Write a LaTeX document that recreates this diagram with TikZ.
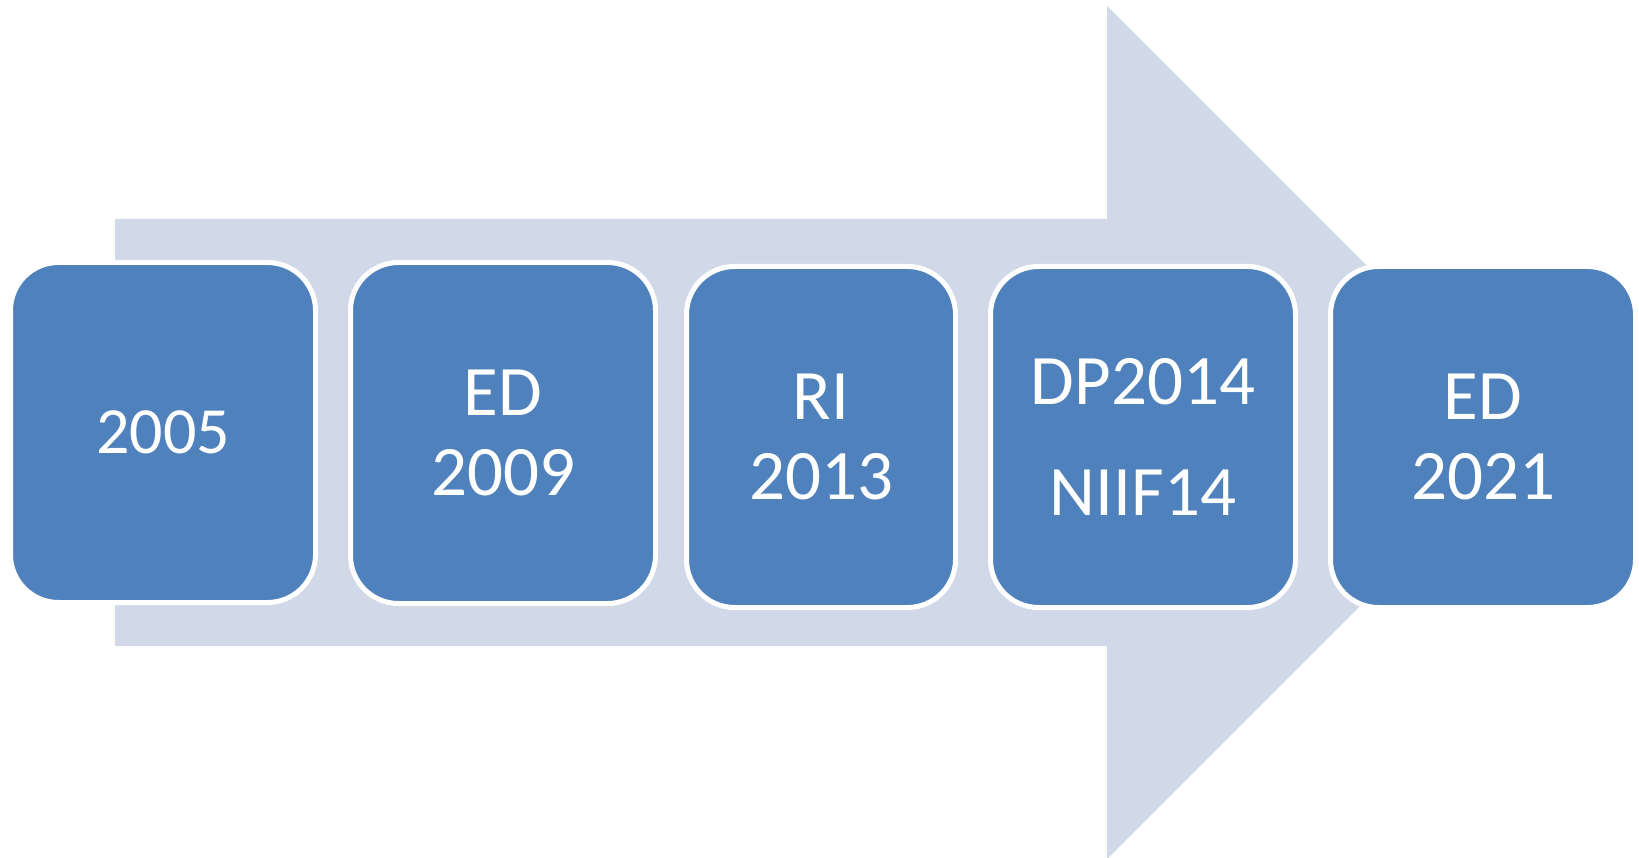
\documentclass[tikz,border=0pt]{standalone}
\usepackage{fontspec}
\setmainfont{Carlito}
\definecolor{shaftgray}{RGB}{209,216,232}
\definecolor{stepblue}{RGB}{79,129,189}

\begin{document}
\begin{tikzpicture}[x=1pt,y=-1pt,
    stage/.style={draw=white, line width=5pt, fill=stepblue, rounded corners=48pt,
      text=white, align=center, inner sep=0pt, minimum height=341pt,
      font={\fontsize{71}{80}\selectfont}}]
      \useasboundingbox (0,0) rectangle (1639,858);

      % big arrow behind the stages
      \fill[shaftgray] (115,219) -- (1107,219) -- (1107,6) -- (1533.5,432.5)
        -- (1107,859) -- (1107,646) -- (115,646) -- cycle;

      \node[stage, minimum width=305pt, minimum height=340pt,
        font={\fontsize{66}{74}\selectfont}] (Y05) at (163, 432.5) {2005};
      \node[stage, minimum width=305pt] (ED09) at (503, 433) {ED\\2009};
      \node[stage, minimum width=269pt] (RI13) at (821, 437) {RI\\2013};
      \node[stage, minimum width=305pt] (DP14) at (1143, 437) {DP2014\\[31pt]NIIF14};
      \node[stage, minimum width=305pt] (ED21) at (1483, 437) {ED\\2021};
    \end{tikzpicture}
\end{document}
